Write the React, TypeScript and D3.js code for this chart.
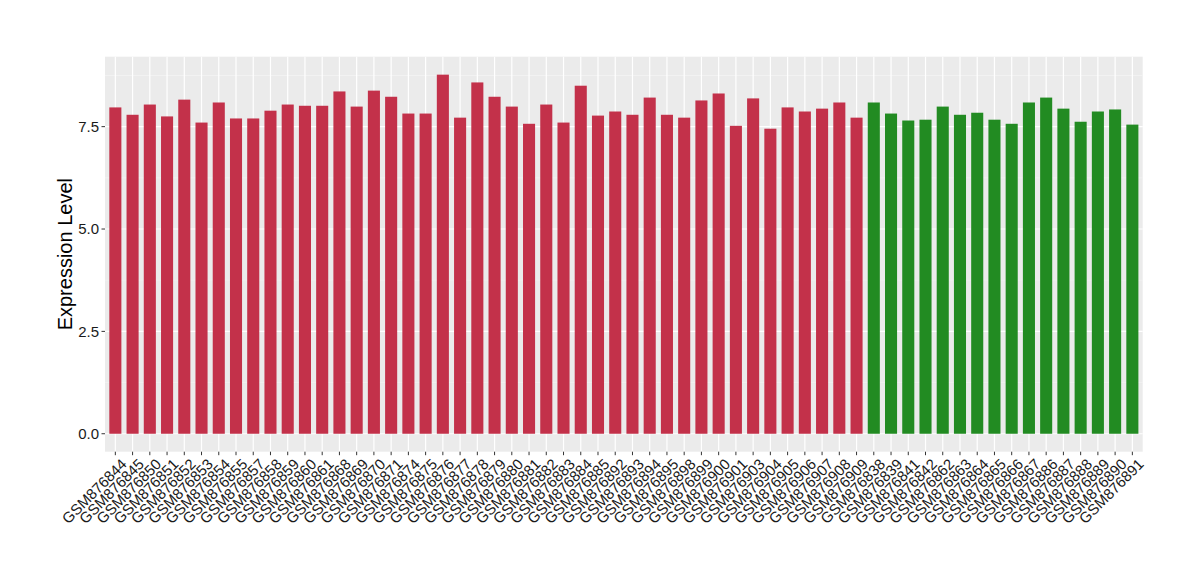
import React from "react";
import * as d3 from "d3";

const samples: string[] = [
  "GSM876844","GSM876845","GSM876850","GSM876851","GSM876852","GSM876853","GSM876854","GSM876855","GSM876857","GSM876858",
  "GSM876859","GSM876860","GSM876861","GSM876868","GSM876869","GSM876870","GSM876871","GSM876874","GSM876875","GSM876876",
  "GSM876877","GSM876878","GSM876879","GSM876880","GSM876881","GSM876882","GSM876883","GSM876884","GSM876885","GSM876892",
  "GSM876893","GSM876894","GSM876895","GSM876898","GSM876899","GSM876900","GSM876901","GSM876903","GSM876904","GSM876905",
  "GSM876906","GSM876907","GSM876908","GSM876909",
  "GSM876838","GSM876839","GSM876841","GSM876842","GSM876862","GSM876863","GSM876864","GSM876865","GSM876866","GSM876867",
  "GSM876886","GSM876887","GSM876888","GSM876889","GSM876890","GSM876891",
];

const values: number[] = [
  7.97, 7.79, 8.04, 7.75, 8.16, 7.60, 8.09, 7.70, 7.70, 7.89,
  8.04, 8.01, 8.01, 8.36, 7.99, 8.38, 8.23, 7.82, 7.82, 8.77,
  7.72, 8.58, 8.23, 7.99, 7.57, 8.04, 7.60, 8.50, 7.77, 7.87,
  7.79, 8.21, 7.79, 7.72, 8.14, 8.31, 7.52, 8.19, 7.45, 7.97,
  7.87, 7.94, 8.09, 7.72,
  8.09, 7.82, 7.65, 7.67, 7.99, 7.79, 7.84, 7.67, 7.57, 8.09,
  8.21, 7.94, 7.62, 7.87, 7.92, 7.55,
];

const groups: string[] = [
  ...Array(44).fill("A"),
  ...Array(16).fill("B"),
];

const groupColors: Record<string, string> = { A: "#C3314A", B: "#228B22" };
const yTicks: number[] = [0, 2.5, 5, 7.5];
const yMinor: number[] = [1.25, 3.75, 6.25, 8.75];

export default function App() {
  const W = 1200, H = 580;
  const left = 105, right = 1142.7, top = 56.7, bottom = 451.7;

  const maxV = d3.max(values) as number;
  const pad = maxV * 0.05;
  const y = d3.scaleLinear().domain([0 - pad, maxV + pad]).range([bottom, top]);

  const n = samples.length;
  const step = (right - left) / (n - 1 + 1.2);
  const x = (i: number) => left + (0.6 + i) * step;
  const bw = step * 0.7;

  const font = "'Liberation Sans', Arial, Helvetica, sans-serif";

  return (
    <svg width={W} height={H} style={{ display: "block", position: "absolute", left: 0, top: 0 }} fontFamily={font}>
      <rect x={0} y={0} width={W} height={H} fill="#fff" />
      <rect x={left} y={top} width={right - left} height={bottom - top} fill="#EBEBEB" />
      {yMinor.map((t) => (
        <line key={"mn" + t} x1={left} x2={right} y1={y(t)} y2={y(t)} stroke="#F5F5F5" strokeWidth={0.6} />
      ))}
      {yTicks.map((t) => (
        <line key={"mj" + t} x1={left} x2={right} y1={y(t)} y2={y(t)} stroke="#fff" strokeWidth={1.2} />
      ))}
      {samples.map((s, i) => (
        <line key={"vg" + s} x1={x(i)} x2={x(i)} y1={top} y2={bottom} stroke="#fff" strokeWidth={1.2} />
      ))}
      {samples.map((s, i) => (
        <rect
          key={"b" + s}
          x={x(i) - bw / 2}
          y={y(values[i])}
          width={bw}
          height={y(0) - y(values[i])}
          fill={groupColors[groups[i]]}
        />
      ))}
      {yTicks.map((t) => (
        <g key={"yt" + t}>
          <line x1={left - 3.5} x2={left} y1={y(t)} y2={y(t)} stroke="#333" strokeWidth={1} />
          <text x={left - 6} y={y(t)} dy="0.36em" textAnchor="end" fontSize={15} fill="#1a1a1a">
            {d3.format(".1f")(t)}
          </text>
        </g>
      ))}
      {samples.map((s, i) => (
        <g key={"xt" + s}>
          <line x1={x(i)} x2={x(i)} y1={bottom} y2={bottom + 3.5} stroke="#333" strokeWidth={1} />
          <text
            transform={`translate(${x(i) + 5},${bottom + 6}) rotate(-45)`}
            textAnchor="end"
            dy="0.7em"
            fontSize={15}
            fill="#1a1a1a"
          >
            {s}
          </text>
        </g>
      ))}
      <text
        transform={`translate(${72},${(top + bottom) / 2}) rotate(-90)`}
        textAnchor="middle"
        fontSize={20}
        fill="#000"
      >
        Expression Level
      </text>
    </svg>
  );
}
